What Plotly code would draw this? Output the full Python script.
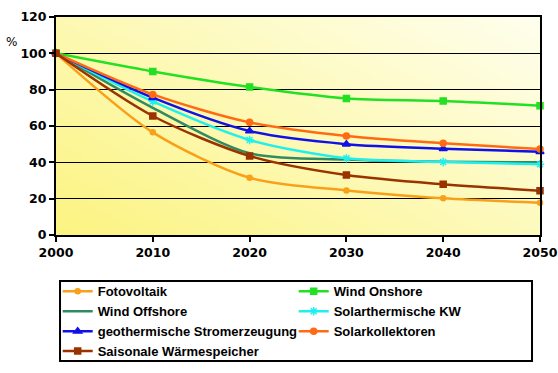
import base64, struct, zlib
import plotly.graph_objects as go

years = [2000, 2010, 2020, 2030, 2040, 2050]
fotovoltaik = [100, 56.5, 31.5, 24.5, 20.2, 17.8]
wind_onshore = [100, 90, 81.5, 75.2, 73.8, 71.2]
wind_offshore = [100, 70, 45, 41.5, 40.3, 40]
solarthermische_kw = [100, 73.5, 52.3, 42.2, 40.2, 39]
geothermisch = [100, 75.6, 57.2, 50, 47.5, 45.8]
solarkollektoren = [100, 77.4, 62, 54.5, 50.5, 47.3]
saisonale = [100, 65.5, 43.5, 33, 27.9, 24.4]

series = [
    ("Fotovoltaik", fotovoltaik, "#F9A01B", "circle", 5),
    ("Wind Onshore", wind_onshore, "#22E022", "square", 6),
    ("Wind Offshore", wind_offshore, "#2E8B63", None, 0),
    ("Solarthermische KW", solarthermische_kw, "#1EF0F0", "asterisk-open", 7),
    ("geothermische Stromerzeugung", geothermisch, "#1010E8", "triangle-up", 7),
    ("Solarkollektoren", solarkollektoren, "#FF6A14", "circle", 6),
    ("Saisonale Wärmespeicher", saisonale, "#993300", "square", 6),
]


def make_png(w, h):
    c0 = (252, 244, 130)   # bottom-left
    c1 = (255, 255, 238)   # top-right
    rows = b""
    for y in range(h):
        row = b"\x00"
        for x in range(w):
            t = (x / (w - 1) * 0.55 + (1 - y / (h - 1)) * 0.45)
            t = min(1, max(0, t))
            px = bytes(int(c0[k] + (c1[k] - c0[k]) * t) for k in range(3))
            row += px
        rows += row
    def chunk(tag, data):
        return struct.pack(">I", len(data)) + tag + data + struct.pack(">I", zlib.crc32(tag + data) & 0xffffffff)
    png = b"\x89PNG\r\n\x1a\n"
    png += chunk(b"IHDR", struct.pack(">IIBBBBB", w, h, 8, 2, 0, 0, 0))
    png += chunk(b"IDAT", zlib.compress(rows))
    png += chunk(b"IEND", b"")
    return "data:image/png;base64," + base64.b64encode(png).decode()


fig = go.Figure()
for name, vals, color, sym, size in series:
    if sym is None:
        mode = "lines"
        marker = dict()
    else:
        mode = "lines+markers"
        marker = dict(symbol=sym, size=size, color=color, line=dict(color=color, width=1.5))
    fig.add_trace(go.Scatter(
        x=years, y=vals, name=name, mode=mode,
        line=dict(color=color, width=2.5, shape="spline", smoothing=0.8),
        marker=marker, cliponaxis=False,
    ))

tick_font = dict(family="DejaVu Sans, Verdana", size=12.5, color="black", weight="bold")

fig.update_layout(
    width=558, height=373,
    margin=dict(l=56, r=18, t=17, b=138, autoexpand=False),
    paper_bgcolor="white",
    plot_bgcolor="rgba(0,0,0,0)",
    font=dict(family="Arial, Liberation Sans", size=12, color="black"),
    images=[dict(source=make_png(64, 64), xref="paper", yref="paper", x=0, y=1,
                 sizex=1, sizey=1, sizing="stretch", layer="below", xanchor="left", yanchor="top")],
    shapes=[dict(type="rect", xref="paper", yref="paper", x0=0.0083, x1=0.9835, y0=-0.578, y1=-0.211,
                 line=dict(color="black", width=2), fillcolor="white", layer="below")],
    xaxis=dict(
        range=[2000, 2050], tickvals=years, ticks="outside", ticklen=5, tickwidth=1.5,
        tickcolor="black", showline=True, linecolor="black", linewidth=2, mirror=True,
        showgrid=False, zeroline=False, tickfont=tick_font,
    ),
    yaxis=dict(
        range=[0, 120], dtick=20, ticks="outside", ticklen=5, tickwidth=1.5,
        tickcolor="black", showline=True, linecolor="black", linewidth=2, mirror=True,
        showgrid=True, gridcolor="black", gridwidth=1.2, zeroline=False, tickfont=tick_font,
    ),
    legend=dict(
        orientation="h", x=0.0035, xanchor="left", y=-0.19, yanchor="top",
        entrywidth=191, entrywidthmode="pixels",
        bgcolor="rgba(0,0,0,0)", borderwidth=0,
        font=dict(family="Arial, Liberation Sans", size=13, color="black", weight="bold"),
        itemwidth=30, tracegroupgap=0,
    ),
    annotations=[dict(text="%", xref="paper", yref="paper", x=-0.108, xanchor="left",
                      y=0.925, showarrow=False,
                      font=dict(family="DejaVu Sans, Verdana", size=12, color="black"))],
)

fig.write_html("out.html", config={"displayModeBar": False},
               post_script="document.body.style.margin='0';document.body.style.padding='0';")
